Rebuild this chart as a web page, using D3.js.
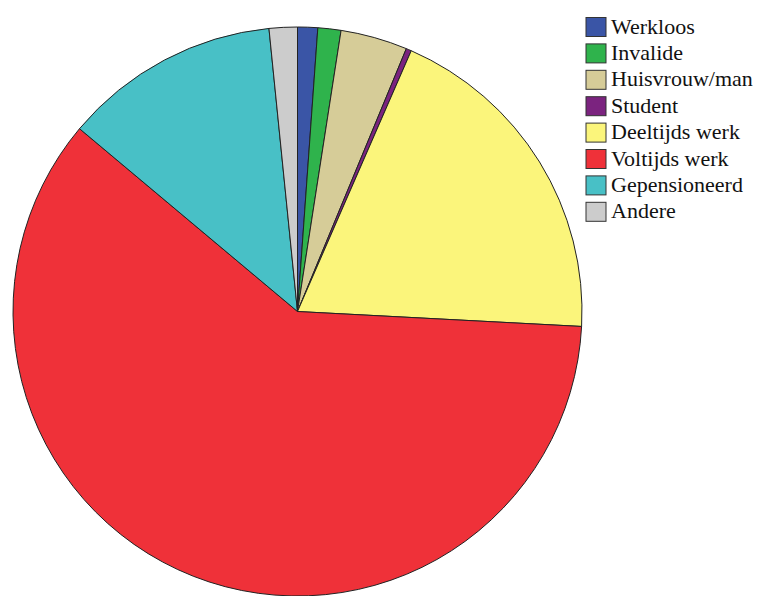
<!DOCTYPE html>
<html><head><meta charset="utf-8">
<script src="https://cdn.jsdelivr.net/npm/d3@7"></script>
<style>body{margin:0;background:#fff;}svg{display:block;}
.lg{font-family:"Liberation Serif","DejaVu Serif","Times New Roman",Times,serif;}</style>
</head><body>
<svg id="chart" width="759" height="596"></svg>
<script>
const categories = ["Werkloos","Invalide","Huisvrouw/man","Student","Deeltijds werk","Voltijds werk","Gepensioneerd","Andere"];
const values = [1.14, 1.31, 3.8, 0.3, 19.3, 60.3, 12.3, 1.6];
const colors = ["#3a55a6","#2fb34c","#d6cc98","#7b237f","#fbf57b","#ef3139","#48c0c6","#cccccc"];

const svg = d3.select("#chart");
const cx = 297.5, cy = 311.5, r = 284.5;
const pie = d3.pie().sort(null).value(d => d)(values);
const arc = d3.arc().innerRadius(0).outerRadius(r);
const color = d3.scaleOrdinal().domain(categories).range(colors);

svg.append("g").attr("transform", `translate(${cx},${cy})`)
  .selectAll("path").data(pie).join("path")
  .attr("d", arc)
  .attr("fill", (d,i) => color(categories[i]))
  .attr("stroke", "#222").attr("stroke-width", 1);

const legend = svg.append("g").attr("transform", "translate(586,17.5)");
const rows = legend.selectAll("g").data(categories).join("g")
  .attr("transform", (d,i) => `translate(0,${i*26.4})`);
rows.append("rect").attr("width", 20).attr("height", 19)
  .attr("fill", d => color(d)).attr("stroke", "#333").attr("stroke-width", 1);
rows.append("text").attr("class", "lg").attr("x", 25).attr("y", 16)
  .attr("font-size", 22).attr("fill", "#111")
  .text(d => d);
</script>
</body></html>
